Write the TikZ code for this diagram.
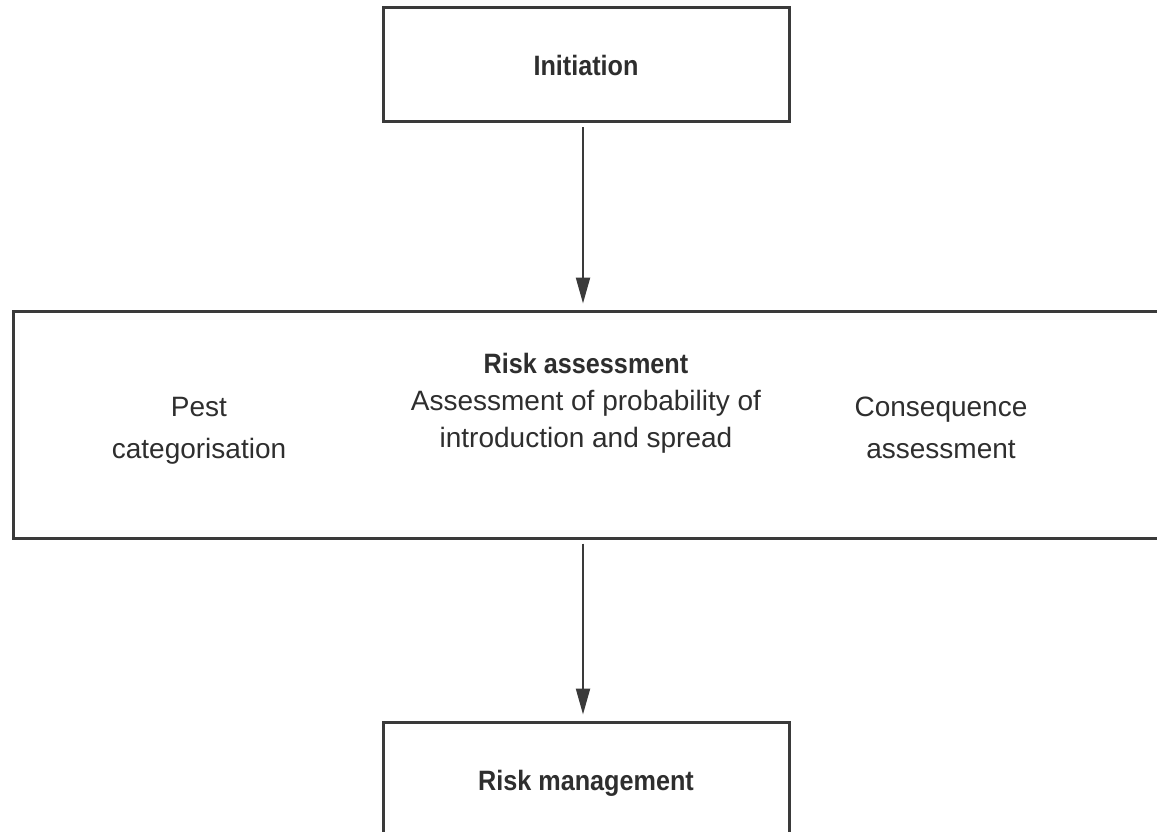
\documentclass[tikz,border=0pt]{standalone}
\usepackage{fontspec}
\setmainfont{Liberation Sans}
\newfontfamily\headfont{Liberation Sans Bold}[FakeStretch=0.9]
\usetikzlibrary{arrows.meta}
\definecolor{ink}{HTML}{2E2E2E}
\definecolor{frame}{HTML}{3A3A3A}
\begin{document}
\begin{tikzpicture}[x=1pt,y=-1pt,
  boxstyle/.style={draw=frame,line width=3pt,inner sep=0pt,text=ink},
  headtext/.style={font=\headfont\fontsize{28}{37}\selectfont,text=ink},
  bodytext/.style={font=\fontsize{28}{37}\selectfont,text=ink,align=center,inner sep=0pt},
  sidetext/.style={font=\fontsize{28}{42}\selectfont,text=ink,align=center,inner sep=0pt},
  flow/.style={draw=frame,line width=2.2pt,-{Triangle[width=14pt,length=26pt]},
    shorten <=4pt,shorten >=6pt}]
\useasboundingbox (0,0) rectangle (1157,832);
\clip (0,0) rectangle (1157,832);

% stage boxes
\node[boxstyle,minimum width=406,minimum height=114,headtext] (init) at (586,65) {Initiation};
\node[boxstyle,minimum width=1162,minimum height=227] (ra) at (594,424.5) {};
\node[boxstyle,minimum width=406,minimum height=123,headtext] (rm) at (586,783.5) {Risk management};

% contents of the risk assessment box
\node[bodytext] (mid) at (586,403)
  {{\headfont Risk assessment}\\Assessment of probability of\\introduction and spread};
\node[sidetext] (pest) at (199,431) {Pest\\categorisation};
\node[sidetext] (cons) at (941,428) {Consequence\\assessment};

% connectors
\draw[flow] ([xshift=-3pt]init.south) -- ([xshift=-3pt]init.south |- ra.north);
\draw[flow] ([xshift=-3pt]ra.south -| init.south) -- ([xshift=-3pt]rm.north);
\end{tikzpicture}
\end{document}
